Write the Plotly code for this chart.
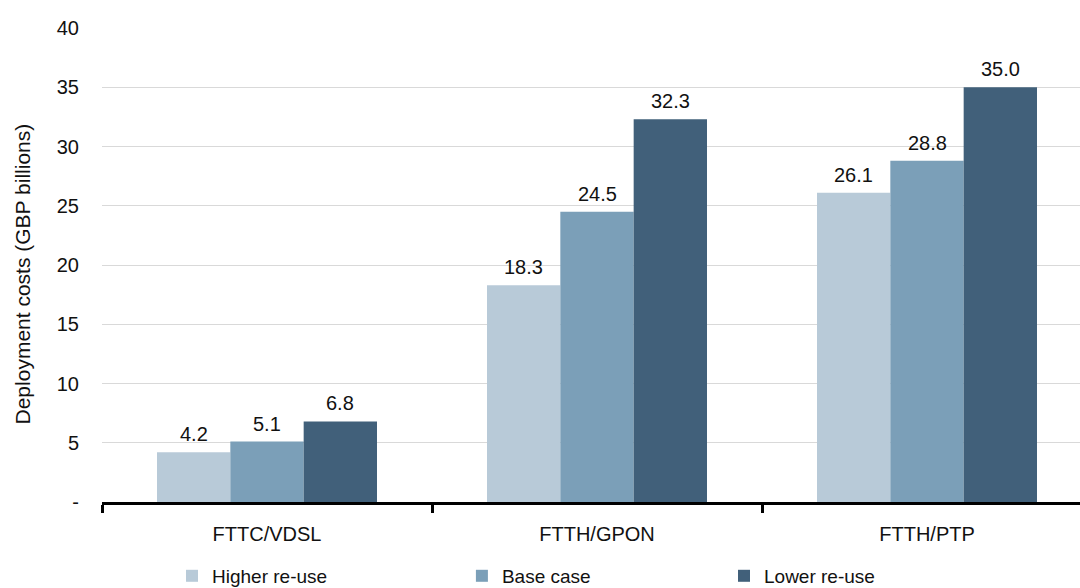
import plotly.graph_objects as go

# Deployment cost scenarios by network architecture (GBP billions)
categories = ["FTTC/VDSL", "FTTH/GPON", "FTTH/PTP"]
higher_reuse = [4.2, 18.3, 26.1]
base_case = [5.1, 24.5, 28.8]
lower_reuse = [6.8, 32.3, 35.0]

series_names = ["Higher re-use", "Base case", "Lower re-use"]
series_colors = ["#B8CAD8", "#7B9FB8", "#41607A"]

y_tick_vals = [0, 5, 10, 15, 20, 25, 30, 35, 40]
y_tick_text = ["-", "5", "10", "15", "20", "25", "30", "35", "40"]

FONT = "Liberation Sans, Arial, sans-serif"
TEXT_COLOR = "#111111"

# geometry of the category axis (used to place value labels over grouped bars)
X_RANGE = [-0.5, 2.5 - 12 / 330]
BARGAP = 1 / 3
MARGIN = dict(l=102, r=0, t=28, b=86, autoexpand=False)
WIDTH, HEIGHT = 1080, 588
plot_w = WIDTH - MARGIN["l"] - MARGIN["r"]
plot_h = HEIGHT - MARGIN["t"] - MARGIN["b"]
px_per_cat = plot_w / (X_RANGE[1] - X_RANGE[0])
bar_px = px_per_cat * (1 - BARGAP) / len(series_names)

fig = go.Figure()
all_series = [higher_reuse, base_case, lower_reuse]
for i, (name, vals, col) in enumerate(zip(series_names, all_series, series_colors)):
    fig.add_trace(go.Bar(
        x=categories,
        y=vals,
        name=name,
        marker=dict(color=col, line=dict(width=0)),
        legend="legend" if i == 0 else f"legend{i + 1}",
        showlegend=True,
    ))
    # value labels above each bar
    for cat, v in zip(categories, vals):
        fig.add_annotation(
            x=cat, y=v, xref="x", yref="y",
            text=f"{v:.1f}",
            showarrow=False,
            xanchor="center", yanchor="bottom",
            xshift=(i - 1) * bar_px,
            yshift=5,
            font=dict(family=FONT, size=20, color=TEXT_COLOR),
        )

# vertical axis title
fig.add_annotation(
    text="Deployment costs (GBP billions)",
    xref="paper", yref="paper",
    x=(22 - MARGIN["l"]) / plot_w, y=0.48,
    xanchor="center", yanchor="middle",
    textangle=-90,
    showarrow=False,
    font=dict(family=FONT, size=21, color=TEXT_COLOR),
)

legend_common = dict(
    orientation="h",
    font=dict(family=FONT, size=19, color=TEXT_COLOR),
    bgcolor="rgba(0,0,0,0)",
    xanchor="left",
    yanchor="middle",
    y=-0.156,
    itemwidth=30,
)

fig.update_layout(
    width=WIDTH,
    height=HEIGHT,
    margin=MARGIN,
    paper_bgcolor="white",
    plot_bgcolor="white",
    showlegend=True,
    barmode="group",
    bargap=BARGAP,
    bargroupgap=0,
    font=dict(family=FONT, size=20, color=TEXT_COLOR),
    legend=dict(x=0.0716, **legend_common),
    legend2=dict(x=0.368, **legend_common),
    legend3=dict(x=0.636, **legend_common),
    xaxis=dict(
        type="category",
        range=X_RANGE,
        showline=True,
        linecolor="black",
        linewidth=3,
        ticks="outside",
        tickson="boundaries",
        ticklen=8,
        tickwidth=2.5,
        tickcolor="black",
        showgrid=False,
        ticklabelstandoff=12,
        tickfont=dict(family=FONT, size=20, color=TEXT_COLOR),
        automargin=False,
    ),
    yaxis=dict(
        range=[0, 40],
        tickvals=y_tick_vals,
        ticktext=y_tick_text,
        showgrid=True,
        gridcolor="#D9D9D9",
        gridwidth=1,
        zeroline=False,
        showline=False,
        ticks="",
        ticklabelstandoff=22,
        tickfont=dict(family=FONT, size=20, color=TEXT_COLOR),
        automargin=False,
    ),
)

fig.write_html("out.html")
